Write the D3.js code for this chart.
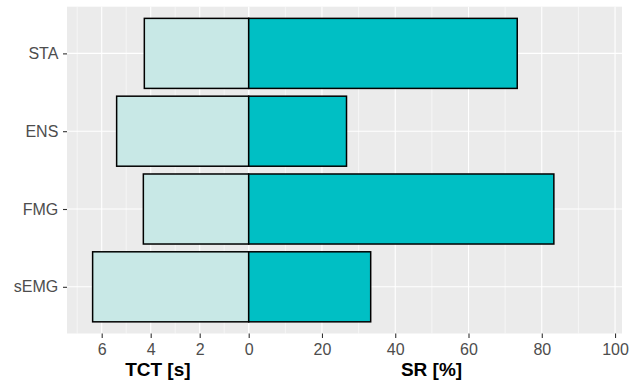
<!DOCTYPE html>
<html>
<head>
<meta charset="utf-8">
<script src="https://cdn.jsdelivr.net/npm/d3@7"></script>
<style>
  html, body { margin: 0; padding: 0; background: #fff; }
  svg { display: block; font-family: "Liberation Sans", Arial, Helvetica, sans-serif; }
</style>
</head>
<body>
<svg id="chart" width="641" height="385"></svg>
<script>
// Categories (top to bottom)
const categories = ["STA", "ENS", "FMG", "sEMG"];
// Task completion time, seconds (left half)
const tctValues = [4.26, 5.39, 4.30, 6.37];
// Success rate, percent (right half)
const srValues = [73.3, 26.7, 83.3, 33.3];
// Tick labels
const tctTicks = [6, 4, 2, 0];
const tctMinor = [7, 5, 3, 1];
const srTicks = [0, 20, 40, 60, 80, 100];
const srMinor = [10, 30, 50, 70, 90];

const svg = d3.select("#chart");

const panel = { left: 67, mid: 248.7, right: 622, top: 6.7, bottom: 333.5 };
const xL = d3.scaleLinear().domain([7.416, 0]).range([panel.left, panel.mid]);
const xR = d3.scaleLinear().domain([0, 101.9]).range([panel.mid, panel.right]);
const y = d3.scalePoint().domain(categories).range([panel.top, panel.bottom]).padding(0.6);
const barH = y.step() * 0.9;

// panel background
svg.append("rect")
  .attr("x", panel.left).attr("y", panel.top)
  .attr("width", panel.right - panel.left).attr("height", panel.bottom - panel.top)
  .attr("fill", "#EBEBEB");

const grid = svg.append("g");
// minor verticals
grid.selectAll("line.minL").data(tctMinor).join("line")
  .attr("x1", d => xL(d)).attr("x2", d => xL(d))
  .attr("y1", panel.top).attr("y2", panel.bottom)
  .attr("stroke", "#fff").attr("stroke-width", 0.55);
grid.selectAll("line.minR").data(srMinor).join("line")
  .attr("x1", d => xR(d)).attr("x2", d => xR(d))
  .attr("y1", panel.top).attr("y2", panel.bottom)
  .attr("stroke", "#fff").attr("stroke-width", 0.55);
// major verticals
grid.selectAll("line.majL").data(tctTicks).join("line")
  .attr("x1", d => xL(d)).attr("x2", d => xL(d))
  .attr("y1", panel.top).attr("y2", panel.bottom)
  .attr("stroke", "#fff").attr("stroke-width", 1.1);
grid.selectAll("line.majR").data(srTicks).join("line")
  .attr("x1", d => xR(d)).attr("x2", d => xR(d))
  .attr("y1", panel.top).attr("y2", panel.bottom)
  .attr("stroke", "#fff").attr("stroke-width", 1.1);
// horizontal majors
grid.selectAll("line.majY").data(categories).join("line")
  .attr("x1", panel.left).attr("x2", panel.right)
  .attr("y1", d => y(d)).attr("y2", d => y(d))
  .attr("stroke", "#fff").attr("stroke-width", 1.1);

// bars
const rows = categories.map((c, i) => ({ c, tct: tctValues[i], sr: srValues[i] }));
svg.append("g").selectAll("rect").data(rows).join("rect")
  .attr("x", d => xL(d.tct)).attr("width", d => xL(0) - xL(d.tct))
  .attr("y", d => y(d.c) - barH / 2).attr("height", barH)
  .attr("fill", "#C8E8E6").attr("stroke", "#000").attr("stroke-width", 1.5);
svg.append("g").selectAll("rect").data(rows).join("rect")
  .attr("x", xR(0)).attr("width", d => xR(d.sr) - xR(0))
  .attr("y", d => y(d.c) - barH / 2).attr("height", barH)
  .attr("fill", "#00BFC4").attr("stroke", "#000").attr("stroke-width", 1.5);

// axes
function styleAxis(g) {
  g.select(".domain").remove();
  g.selectAll(".tick line").attr("stroke", "#333333").attr("stroke-width", 1.1);
  g.selectAll(".tick text").attr("fill", "#4D4D4D").attr("font-size", "16px")
    .attr("font-family", "'Liberation Sans', Arial, sans-serif");
}
svg.append("g").attr("transform", `translate(0,${panel.bottom})`)
  .call(d3.axisBottom(xL).tickValues(tctTicks).tickFormat(d3.format("d")).tickSize(4.5).tickPadding(6))
  .call(styleAxis);
svg.append("g").attr("transform", `translate(0,${panel.bottom})`)
  .call(d3.axisBottom(xR).tickValues(srTicks.slice(1)).tickFormat(d3.format("d")).tickSize(4.5).tickPadding(6))
  .call(styleAxis);
svg.append("g").attr("transform", `translate(${panel.left},0)`)
  .call(d3.axisLeft(y).tickSize(4).tickPadding(4.7))
  .call(styleAxis);

// axis titles
svg.append("text").attr("x", (panel.left + panel.mid) / 2).attr("y", 376)
  .attr("text-anchor", "middle").attr("font-weight", "bold").attr("font-size", "19px")
  .attr("fill", "#000").text("TCT [s]");
svg.append("text").attr("x", 431.5).attr("y", 376)
  .attr("text-anchor", "middle").attr("font-weight", "bold").attr("font-size", "19px")
  .attr("fill", "#000").text("SR [%]");
</script>
</body>
</html>
